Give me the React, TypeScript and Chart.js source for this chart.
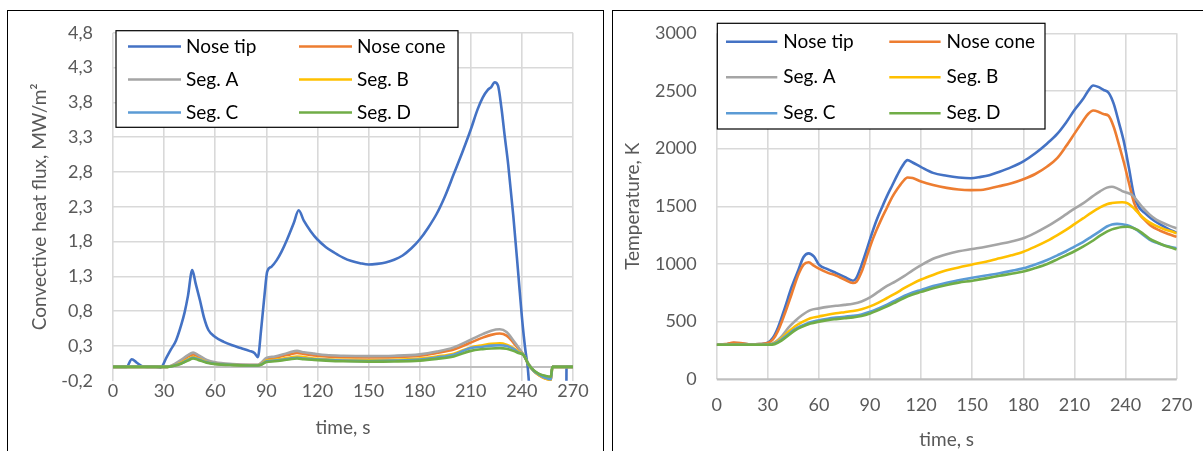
import React, { useEffect, useRef } from "react";
import { Chart, registerables } from "chart.js";

Chart.register(...registerables);

// ---------- shared ----------
const seriesNames = ["Nose tip", "Nose cone", "Seg. A", "Seg. B", "Seg. C", "Seg. D"];
const seriesColors = ["#4472C4", "#ED7D31", "#A5A5A5", "#FFC000", "#5B9BD5", "#70AD47"];
const timeTicks = [0, 30, 60, 90, 120, 150, 180, 210, 240, 270];

// ---------- left chart: convective heat flux ----------
const fluxTicks = [-0.2, 0.3, 0.8, 1.3, 1.8, 2.3, 2.8, 3.3, 3.8, 4.3, 4.8];

const fluxTimeTip = [
  0, 8, 11, 14, 17, 20, 25, 28, 31.5, 34,
  37, 40, 42, 44, 46.5, 48.5, 51, 53.5, 56, 60,
  65, 70, 75, 80, 83, 85, 87, 89, 90.5, 93,
  96, 99, 102, 106, 109, 112, 116, 120, 125, 130,
  135, 140, 145, 150, 155, 160, 165, 170, 175, 180,
  185, 190, 195, 200, 205, 210, 214, 217, 220, 222,
  224, 226, 228, 230, 232, 235, 238, 240, 242, 243.4,
  244.5, 246, 266, 266.2, 270,
];
const fluxNoseTip = [
  0, 0, 0.11, 0.06, 0.01, 0, 0, -0.01, 0.14, 0.25,
  0.38, 0.6, 0.78, 1.02, 1.39, 1.2, 0.96, 0.7, 0.53, 0.43,
  0.36, 0.31, 0.27, 0.23, 0.2, 0.14, 0.55, 1.05, 1.37, 1.44,
  1.53, 1.66, 1.82, 2.06, 2.25, 2.1, 1.95, 1.83, 1.72, 1.64,
  1.57, 1.52, 1.49, 1.47, 1.48, 1.5, 1.54, 1.6, 1.7, 1.83,
  2.0, 2.2, 2.46, 2.77, 3.08, 3.41, 3.7, 3.87, 3.98, 4.02,
  4.09, 4.04, 3.72, 3.3, 2.9, 2.16, 1.3, 0.72, 0.25, 0,
  -0.35, -1, -1, 0, 0,
];

const fluxTimeSeg = [
  0, 32, 36, 40, 44, 47, 50, 55, 60, 70,
  80, 85, 87, 90, 95, 100, 104, 108, 112, 118,
  125, 135, 150, 165, 180, 190, 200, 210, 217, 222,
  227, 231, 235, 238, 241, 244, 247, 250, 254, 257,
  257.9, 270,
];
const fluxNoseCone = [
  0, 0, 0.03, 0.08, 0.15, 0.18, 0.15, 0.09, 0.055, 0.035,
  0.025, 0.025, 0.05, 0.11, 0.13, 0.16, 0.18, 0.2, 0.185, 0.165,
  0.15, 0.14, 0.135, 0.14, 0.16, 0.2, 0.25, 0.35, 0.42, 0.46,
  0.48, 0.45, 0.35, 0.26, 0.17, 0.03, -0.06, -0.12, -0.17, -0.19,
  0, 0,
];
const fluxSegA = [
  0, 0, 0.04, 0.1, 0.17, 0.205, 0.17, 0.1, 0.065, 0.04,
  0.03, 0.03, 0.06, 0.13, 0.15, 0.18, 0.21, 0.23, 0.21, 0.19,
  0.17, 0.16, 0.155, 0.16, 0.18, 0.22, 0.28, 0.39, 0.47, 0.52,
  0.54, 0.5, 0.38, 0.28, 0.17, 0.04, -0.05, -0.1, -0.14, -0.15,
  0, 0,
];
const fluxSegB = [
  0, 0, 0.02, 0.06, 0.11, 0.14, 0.12, 0.07, 0.045, 0.03,
  0.02, 0.02, 0.04, 0.09, 0.1, 0.12, 0.135, 0.15, 0.14, 0.12,
  0.11, 0.1, 0.095, 0.1, 0.12, 0.15, 0.19, 0.28, 0.31, 0.33,
  0.34, 0.32, 0.27, 0.22, 0.17, 0.03, -0.06, -0.12, -0.17, -0.19,
  0, 0,
];
const fluxSegC = [
  0, 0, 0.02, 0.05, 0.1, 0.13, 0.11, 0.065, 0.045, 0.03,
  0.02, 0.02, 0.035, 0.08, 0.09, 0.105, 0.12, 0.13, 0.12, 0.11,
  0.1, 0.09, 0.085, 0.09, 0.105, 0.135, 0.175, 0.27, 0.29, 0.305,
  0.31, 0.3, 0.26, 0.21, 0.17, 0.03, -0.06, -0.11, -0.16, -0.18,
  0, 0,
];
const fluxSegD = [
  0, 0, 0.015, 0.045, 0.09, 0.12, 0.1, 0.06, 0.04, 0.025,
  0.02, 0.02, 0.03, 0.07, 0.08, 0.095, 0.11, 0.12, 0.11, 0.1,
  0.09, 0.08, 0.075, 0.078, 0.09, 0.115, 0.15, 0.23, 0.255, 0.265,
  0.27, 0.26, 0.23, 0.2, 0.17, 0.03, -0.05, -0.1, -0.13, -0.14,
  0, 0,
];

// ---------- right chart: temperature ----------
const tempTicks = [0, 500, 1000, 1500, 2000, 2500, 3000];

const tempTimeNose = [
  0, 5, 10, 15, 20, 25, 30, 33, 36, 40,
  44, 48, 51, 54, 57, 60, 65, 70, 75, 80,
  82, 85, 88, 91, 94, 97, 100, 103, 106, 109,
  112, 115, 120, 127, 135, 142, 149, 155, 160, 166,
  173, 180, 187, 194, 200, 205, 210, 215, 218, 221,
  224, 227, 230, 233, 236, 239, 242, 245, 248, 251,
  255, 260, 265, 270,
];
const tempNoseTip = [
  300, 303, 315, 310, 302, 305, 318, 360, 450, 620,
  800, 950, 1060, 1092, 1065, 995, 955, 922, 888, 855,
  880, 990, 1121, 1260, 1385, 1490, 1590, 1680, 1770, 1850,
  1900, 1880, 1840, 1790, 1765, 1750, 1743, 1755, 1770, 1800,
  1840, 1890, 1960, 2045, 2130, 2225, 2335, 2430, 2500, 2548,
  2535, 2510, 2485, 2390, 2230, 2060, 1830, 1590, 1490, 1445,
  1395, 1345, 1305, 1270,
];
const tempNoseCone = [
  300, 305, 318, 312, 302, 305, 315, 345, 420, 570,
  740, 910, 995, 1015, 985, 960, 925, 900, 865, 835,
  845, 930, 1060, 1190, 1300, 1400, 1490, 1580, 1650, 1710,
  1750, 1745, 1715, 1685, 1660, 1645, 1640, 1641, 1655, 1675,
  1700, 1735, 1780, 1845, 1920, 2020, 2130, 2240, 2300, 2330,
  2320, 2300, 2285, 2190, 2040, 1880, 1700, 1530, 1435, 1385,
  1330, 1290, 1260, 1235,
];

const tempTimeSeg = [
  0, 30, 34, 38, 42, 46, 50, 55, 60, 65,
  70, 75, 80, 85, 90, 95, 100, 105, 110, 115,
  120, 127, 135, 142, 150, 158, 166, 173, 180, 187,
  194, 200, 205, 210, 215, 220, 225, 229, 232, 235,
  238, 241, 244, 247, 250, 254, 258, 262, 266, 270,
];
const tempSegA = [
  300, 300, 320, 370, 445, 505, 555, 600, 615, 628,
  637, 645, 655, 675, 710, 760, 810, 850, 895, 945,
  990, 1045, 1085, 1110, 1130, 1150, 1173, 1195, 1223, 1270,
  1325, 1380, 1430, 1480, 1525, 1580, 1630, 1662, 1670, 1655,
  1632, 1618, 1595, 1545, 1490, 1430, 1385, 1355, 1330, 1310,
];
const tempSegB = [
  300, 300, 315, 355, 410, 460, 495, 530, 545, 560,
  572, 582, 592, 608, 632, 665, 705, 745, 790, 830,
  865, 905, 945, 970, 995, 1020, 1049, 1075, 1106, 1150,
  1200, 1250, 1295, 1345, 1395, 1445, 1490, 1518, 1528, 1533,
  1535, 1528, 1495, 1450, 1405, 1360, 1330, 1305, 1285, 1267,
];
const tempSegC = [
  300, 300, 310, 345, 390, 435, 465, 495, 512, 525,
  535, 543, 550, 562, 585, 615, 648, 685, 722, 752,
  775, 808, 838, 858, 880, 900, 920, 940, 962, 995,
  1034, 1075, 1110, 1150, 1190, 1237, 1285, 1325, 1343, 1348,
  1345, 1335, 1318, 1290, 1255, 1212, 1185, 1165, 1150, 1137,
];
const tempSegD = [
  300, 300, 305, 335, 380, 425, 455, 483, 500, 513,
  522, 530, 537, 548, 570, 600, 632, 668, 705, 735,
  758, 790, 818, 838, 855, 875, 897, 915, 935, 965,
  1000, 1040, 1075, 1110, 1150, 1195, 1245, 1280, 1300, 1312,
  1320, 1323, 1315, 1295, 1265, 1220, 1190, 1165, 1145, 1127,
];

// ---------- helpers ----------
const FONT = "Lato, 'Noto Sans', sans-serif";
const TICK_COLOR = "#595959";
const GRID_COLOR = "#D9D9D9";

function pts(times: number[], values: number[]) {
  return times.map((t, i) => ({ x: t, y: values[i] }));
}

function makeDatasets(series: { t: number[]; v: number[] }[]) {
  return series.map((s, i) => ({
    label: seriesNames[i],
    data: pts(s.t, s.v),
    borderColor: seriesColors[i],
    backgroundColor: seriesColors[i],
    borderWidth: 2.6,
    pointRadius: 0,
    fill: false,
    cubicInterpolationMode: "monotone" as const,
    order: series.length - 1 - i,
  }));
}

const zeroLinePlugin = {
  id: "zeroLine",
  beforeDatasetsDraw(chart: any) {
    const { ctx, chartArea: a, scales } = chart;
    const y = scales.y.getPixelForValue(0);
    ctx.save();
    ctx.strokeStyle = "#BFBFBF";
    ctx.lineWidth = 2;
    ctx.beginPath();
    ctx.moveTo(a.left, y);
    ctx.lineTo(a.right, y);
    ctx.stroke();
    ctx.restore();
  },
};

const boxLegendPlugin = {
  id: "boxLegend",
  afterDraw(chart: any, _args: any, opts: any) {
    const { ctx, chartArea: a } = chart;
    const [bx1, by1, bx2, by2] = opts.box;
    const x1 = a.left + bx1, y1 = a.top + by1, x2 = a.left + bx2, y2 = a.top + by2;
    ctx.save();
    ctx.fillStyle = "#FFFFFF";
    ctx.fillRect(x1, y1, x2 - x1, y2 - y1);
    ctx.strokeStyle = "#000000";
    ctx.lineWidth = 1.2;
    ctx.strokeRect(x1, y1, x2 - x1, y2 - y1);
    ctx.font = opts.font;
    ctx.textBaseline = "middle";
    ctx.textAlign = "left";
    chart.data.datasets.forEach((ds: any, i: number) => {
      const col = i % 2;
      const row = Math.floor(i / 2);
      const y = a.top + opts.rows[row];
      const lx = a.left + opts.cols[col];
      ctx.strokeStyle = ds.borderColor;
      ctx.lineWidth = 2.6;
      ctx.beginPath();
      ctx.moveTo(lx, y);
      ctx.lineTo(lx + opts.lineLen, y);
      ctx.stroke();
      ctx.fillStyle = "#000000";
      ctx.fillText(ds.label, lx + opts.textGap, y);
    });
    ctx.restore();
  },
};

function makeConfig(p: {
  datasets: any[];
  yTicks: number[];
  yTitle: string;
  fmt: (v: number) => string;
  yWidth: number;
  xHeight: number;
  padTop: number;
  padRight: number;
  xTickPad: number;
  xTitlePad: number;
  yTitlePad: number;
  hideMinGrid: boolean;
  legend: any;
}) {
  const yMin = p.yTicks[0];
  const yMax = p.yTicks[p.yTicks.length - 1];
  return {
    type: "line" as const,
    data: { datasets: p.datasets },
    plugins: [zeroLinePlugin, boxLegendPlugin],
    options: {
      animation: false as const,
      responsive: false,
      maintainAspectRatio: false,
      devicePixelRatio: 1,
      layout: { padding: { top: p.padTop, right: p.padRight, left: 0, bottom: 0 } },
      plugins: {
        legend: { display: false },
        tooltip: { enabled: false },
        boxLegend: p.legend,
      },
      scales: {
        x: {
          type: "linear" as const,
          min: 0,
          max: 270,
          afterBuildTicks: (s: any) => {
            s.ticks = timeTicks.map((v) => ({ value: v }));
          },
          afterFit: (s: any) => {
            s.height = p.xHeight;
            s.paddingLeft = 0;
            s.paddingRight = 0;
          },
          grid: { color: GRID_COLOR, lineWidth: 1.6, drawTicks: false },
          border: { display: false },
          ticks: {
            padding: p.xTickPad,
            color: TICK_COLOR,
            font: { family: FONT, size: 18 },
            maxRotation: 0,
            autoSkip: false,
            callback: (v: any) => String(v),
          },
          title: {
            display: true,
            text: "time, s",
            color: TICK_COLOR,
            font: { family: FONT, size: 19 },
            padding: { top: 0, bottom: p.xTitlePad },
          },
        },
        y: {
          type: "linear" as const,
          min: yMin,
          max: yMax,
          afterBuildTicks: (s: any) => {
            s.ticks = p.yTicks.map((v) => ({ value: v }));
          },
          afterFit: (s: any) => {
            s.width = p.yWidth;
            s.paddingTop = 0;
            s.paddingBottom = 0;
          },
          grid: {
            color: (c: any) =>
              p.hideMinGrid && c.tick && Math.abs(c.tick.value - yMin) < 1e-9 ? "rgba(0,0,0,0)" : GRID_COLOR,
            lineWidth: 1.6,
            drawTicks: false,
          },
          border: { display: false },
          ticks: {
            padding: 20,
            color: TICK_COLOR,
            font: { family: FONT, size: 18 },
            autoSkip: false,
            callback: (v: any) => p.fmt(Number(v)),
          },
          title: {
            display: true,
            text: p.yTitle,
            color: TICK_COLOR,
            font: { family: FONT, size: 19 },
            padding: { top: p.yTitlePad, bottom: 0 },
          },
        },
      },
    },
  };
}

function ChartBox(props: { config: any; left: number; top: number; width: number; height: number }) {
  const ref = useRef<HTMLCanvasElement | null>(null);
  useEffect(() => {
    if (!ref.current) return;
    const chart = new Chart(ref.current, props.config);
    return () => chart.destroy();
  }, []);
  return (
    <canvas
      ref={ref}
      width={props.width}
      height={props.height}
      style={{
        position: "fixed",
        left: props.left,
        top: props.top,
        width: props.width,
        height: props.height,
        display: "block",
      }}
    />
  );
}

const fluxConfig = makeConfig({
  datasets: makeDatasets([
    { t: fluxTimeTip, v: fluxNoseTip },
    { t: fluxTimeSeg, v: fluxNoseCone },
    { t: fluxTimeSeg, v: fluxSegA },
    { t: fluxTimeSeg, v: fluxSegB },
    { t: fluxTimeSeg, v: fluxSegC },
    { t: fluxTimeSeg, v: fluxSegD },
  ]),
  yTicks: fluxTicks,
  yTitle: "Convective heat flux, MW/m²",
  fmt: (v) => v.toFixed(1).replace(".", ","),
  yWidth: 105,
  xHeight: 70.2,
  padTop: 21.8,
  padRight: 30,
  xTickPad: 0,
  xTitlePad: 11.6,
  yTitlePad: 20.6,
  hideMinGrid: true,
  legend: {
    box: [3, -2.1, 345, 94.5],
    rows: [13.7, 46.7, 79.7],
    cols: [15, 186],
    lineLen: 53,
    textGap: 58,
    font: `19px ${FONT}`,
  },
});

const tempConfig = makeConfig({
  datasets: makeDatasets([
    { t: tempTimeNose, v: tempNoseTip },
    { t: tempTimeNose, v: tempNoseCone },
    { t: tempTimeSeg, v: tempSegA },
    { t: tempTimeSeg, v: tempSegB },
    { t: tempTimeSeg, v: tempSegC },
    { t: tempTimeSeg, v: tempSegD },
  ]),
  yTicks: tempTicks,
  yTitle: "Temperature, K",
  fmt: (v) => String(v),
  yWidth: 102.7,
  xHeight: 71.7,
  padTop: 22.3,
  padRight: 26.3,
  xTickPad: 15,
  xTitlePad: 0,
  yTitlePad: 7.6,
  hideMinGrid: false,
  legend: {
    box: [0.6, -10, 328.3, 95.7],
    rows: [8.4, 44, 80],
    cols: [9.3, 172.6],
    lineLen: 51.3,
    textGap: 57.3,
    font: `19px ${FONT}`,
  },
});

export default function App() {
  return (
    <div>
      <div
        style={{
          position: "fixed",
          left: 7,
          top: 10,
          width: 597,
          height: 470,
          border: "1px solid #000",
          boxSizing: "border-box",
          background: "#fff",
        }}
      />
      <div
        style={{
          position: "fixed",
          left: 612,
          top: 10,
          width: 620,
          height: 470,
          border: "1px solid #000",
          boxSizing: "border-box",
          background: "#fff",
        }}
      />
      <ChartBox config={fluxConfig} left={8} top={11} width={595} height={440} />
      <ChartBox config={tempConfig} left={614} top={11} width={589} height={440} />
    </div>
  );
}
